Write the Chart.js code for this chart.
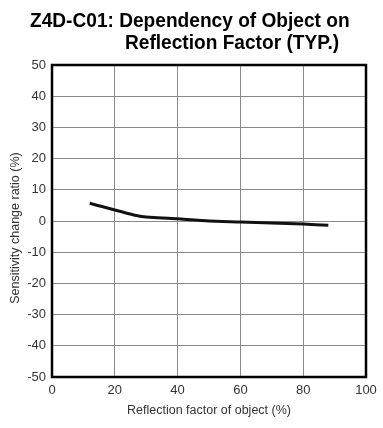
<!DOCTYPE html>
<html>
<head>
<meta charset="utf-8">
<script src="https://cdn.jsdelivr.net/npm/chart.js@4"></script>
<style>
  body { margin: 0; background: #fff; }
  #wrap { position: relative; width: 383px; height: 428px; }
  .t { position: absolute; font-family: "Liberation Sans", Arial, sans-serif;
       font-weight: bold; font-size: 21px; color: #000; white-space: nowrap; line-height: 1;
       transform: scaleX(0.91); transform-origin: left top; }
  canvas { position: absolute; left: 0; top: 0; }
</style>
</head>
<body>
<div id="wrap">
  <canvas id="myChart" width="383" height="428"></canvas>
  <div class="t" style="left:30px; top:9px;">Z4D-C01: Dependency of Object on</div>
  <div class="t" style="left:125px; top:31px;">Reflection Factor (TYP.)</div>
</div>
<script>
const reflection = [12, 28, 40, 50, 60, 80, 88];
const sensitivity = [5.7, 1.5, 0.7, 0, -0.3, -1.0, -1.4];
const xTicks = [0, 20, 40, 60, 80, 100];
const yTicks = [50, 40, 30, 20, 10, 0, -10, -20, -30, -40, -50];
const yTitle = 'Sensitivity change ratio (%)';

const ctx = document.getElementById('myChart');

// thick frame round the plot + y axis title (sits a bit below centre in the original)
const frame = {
    id: 'frame',
    afterDraw(chart) {
        const a = chart.chartArea;
        const c = chart.ctx;
        c.save();
        c.strokeStyle = '#000';
        c.lineWidth = 2.5;
        c.strokeRect(a.left, a.top, a.right - a.left, a.bottom - a.top);
        c.translate(16, 228);
        c.rotate(-Math.PI / 2);
        c.fillStyle = '#333';
        c.font = '12.5px "Liberation Sans"';
        c.textAlign = 'center';
        c.textBaseline = 'middle';
        c.fillText(yTitle, 0, 0);
        c.restore();
    }
};

new Chart(ctx, {
    type: 'line',
    data: {
        datasets: [{
            data: reflection.map((x, i) => ({ x: x, y: sensitivity[i] })),
            borderColor: '#111',
            borderWidth: 3,
            pointRadius: 0,
            tension: 0.2
        }]
    },
    options: {
        responsive: false,
        animation: false,
        layout: { padding: { top: 65, right: 17, left: 0, bottom: 6 } },
        plugins: { legend: { display: false }, tooltip: { enabled: false } },
        scales: {
            x: {
                type: 'linear',
                min: 0, max: 100,
                afterBuildTicks: s => { s.ticks = xTicks.map(v => ({ value: v })); },
                afterFit: s => { s.height = 45; },
                grid: { color: '#8a8a8a', lineWidth: 1, drawTicks: false },
                border: { display: false },
                ticks: { color: '#333', padding: 6, font: { family: 'Liberation Sans', size: 13 } },
                title: { display: true, text: 'Reflection factor of object (%)', color: '#333',
                         font: { family: 'Liberation Sans', size: 12.5 }, padding: { top: 0 } }
            },
            y: {
                min: -50, max: 50,
                afterBuildTicks: s => { s.ticks = yTicks.map(v => ({ value: v })); },
                afterFit: s => { s.width = 52; },
                grid: { color: '#8a8a8a', lineWidth: 1, drawTicks: false },
                border: { display: false },
                ticks: { color: '#333', padding: 6, font: { family: 'Liberation Sans', size: 13 } }
            }
        }
    },
    plugins: [frame]
});
</script>
</body>
</html>
